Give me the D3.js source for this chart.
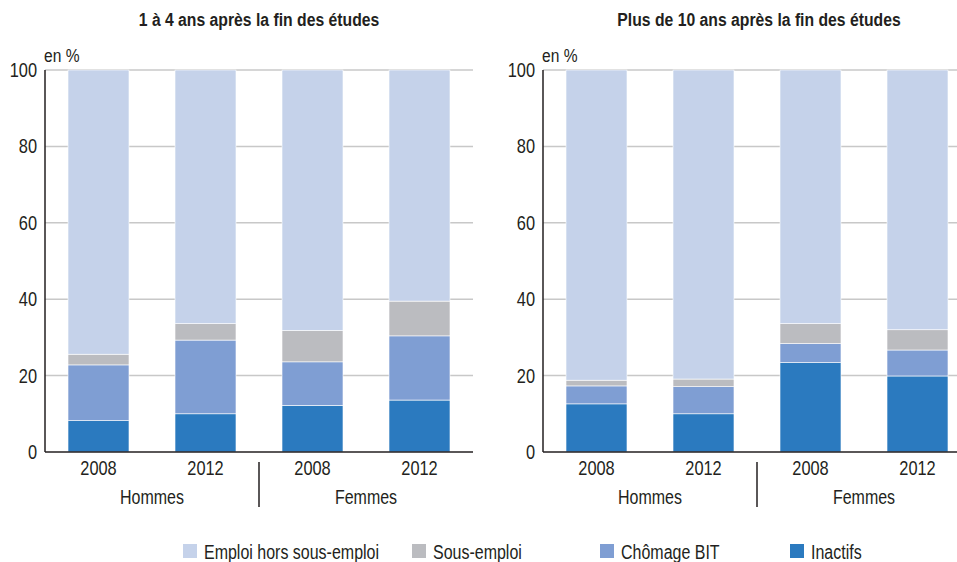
<!DOCTYPE html>
<html><head><meta charset="utf-8">
<script src="https://cdn.jsdelivr.net/npm/d3@7"></script>
<style>
body{margin:0;background:#fff;}
text{font-family:"Liberation Sans",Arial,sans-serif;fill:#231f20;}
</style></head>
<body><svg id="chart" width="957" height="562"></svg>
<script>
const titles = ["1 à 4 ans après la fin des études", "Plus de 10 ans après la fin des études"];
const years = ["2008", "2012", "2008", "2012"];
const groups = ["Hommes", "Femmes"];
const seriesNames = ["Inactifs", "Chômage BIT", "Sous-emploi", "Emploi hors sous-emploi"];
const legendOrder = ["Emploi hors sous-emploi", "Sous-emploi", "Chômage BIT", "Inactifs"];
const colors = ["#2b7abf", "#7f9ed3", "#bbbcc0", "#c5d2ea"];
const yTicks = [0, 20, 40, 60, 80, 100];

// panel 1 : 1 à 4 ans
const p1Inactifs = [8.2, 10.0, 12.2, 13.6];
const p1Chomage = [14.6, 19.3, 11.4, 16.8];
const p1SousEmploi = [2.8, 4.3, 8.2, 9.1];
const p1Emploi = [74.4, 66.4, 68.2, 60.5];
// panel 2 : plus de 10 ans
const p2Inactifs = [12.6, 10.0, 23.4, 19.9];
const p2Chomage = [4.7, 7.1, 5.0, 6.8];
const p2SousEmploi = [1.5, 2.0, 5.2, 5.3];
const p2Emploi = [81.2, 80.9, 66.4, 68.0];

const panels = [
  {title: titles[0], series: [p1Inactifs, p1Chomage, p1SousEmploi, p1Emploi], x0: 45, titleX: 259},
  {title: titles[1], series: [p2Inactifs, p2Chomage, p2SousEmploi, p2Emploi], x0: 543, titleX: 759}
];

const svg = d3.select("#chart");
const y = d3.scaleLinear().domain([0, 100]).range([452, 70]);
const SX = 0.82;

function ctext(parent, x, yy, str, size, anchor, bold) {
  return parent.append("text")
    .attr("transform", `translate(${x},${yy}) scale(${SX},1)`)
    .attr("text-anchor", anchor || "start")
    .style("font-size", size + "px")
    .style("font-weight", bold ? "bold" : "normal")
    .text(str);
}

panels.forEach(p => {
  const g = svg.append("g");
  const x = d3.scaleBand().domain(d3.range(4)).range([p.x0, p.x0 + 428]).paddingInner(0.43).paddingOuter(0.215);
  ctext(g, p.titleX, 26, p.title, 19.2, "middle", true);
  ctext(g, p.x0 - 1, 62, "en %", 19);
  // gridlines
  g.selectAll("line.grid").data(yTicks.filter(d => d > 0)).join("line")
    .attr("x1", p.x0).attr("x2", p.x0 + 428).attr("y1", d => y(d)).attr("y2", d => y(d))
    .attr("stroke", "#c8c8c8").attr("stroke-width", 1.5);
  // y labels
  yTicks.forEach(t => ctext(g, p.x0 - 8, y(t) + 7, String(t), 20, "end"));
  // stacks
  const rows = d3.range(4).map(i => {
    const o = {i: i};
    seriesNames.forEach((s, k) => o[s] = p.series[k][i]);
    return o;
  });
  const stacked = d3.stack().keys(seriesNames)(rows);
  stacked.forEach((layer, k) => {
    g.selectAll(null).data(layer).join("rect")
      .attr("x", d => x(d.data.i)).attr("width", x.bandwidth())
      .attr("y", d => y(Math.min(d[1], 100))).attr("height", d => y(d[0]) - y(Math.min(d[1], 100)))
      .attr("fill", colors[k]).attr("stroke", "#ffffff").attr("stroke-width", 0.6);
  });
  // axes
  g.append("line").attr("x1", p.x0).attr("x2", p.x0).attr("y1", y(100)).attr("y2", y(0))
    .attr("stroke", "#231f20").attr("stroke-width", 1.5);
  g.append("line").attr("x1", p.x0).attr("x2", p.x0 + 428).attr("y1", y(0)).attr("y2", y(0))
    .attr("stroke", "#231f20").attr("stroke-width", 1.5);
  // year labels
  years.forEach((d, i) => ctext(g, x(i) + x.bandwidth() / 2, 475, d, 20, "middle"));
  // group labels
  groups.forEach((gr, j) => {
    const cx = (x(2 * j) + x(2 * j + 1) + x.bandwidth()) / 2;
    ctext(g, cx, 504, gr, 19.5, "middle");
  });
  const sep = (x(1) + x.bandwidth() + x(2)) / 2;
  g.append("line").attr("x1", sep).attr("x2", sep).attr("y1", 462).attr("y2", 507)
    .attr("stroke", "#231f20").attr("stroke-width", 1.5);
});

// legend
const legendX = [183, 412, 600, 790];
legendOrder.forEach((name, i) => {
  const k = seriesNames.indexOf(name);
  svg.append("rect").attr("x", legendX[i]).attr("y", 544).attr("width", 14).attr("height", 14).attr("fill", colors[k]);
  ctext(svg, legendX[i] + 21, 559, name, 19.5);
});
</script></body></html>
